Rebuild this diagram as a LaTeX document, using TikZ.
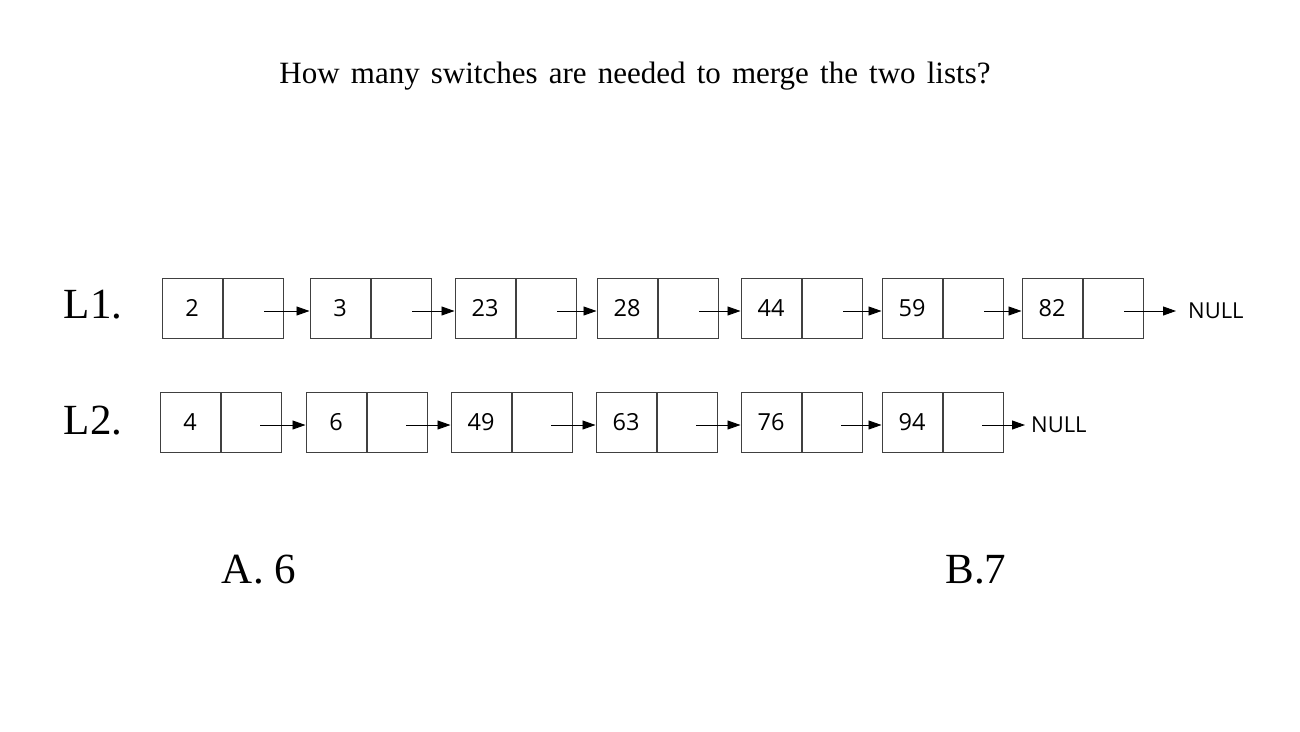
\documentclass[tikz,border=0pt]{standalone}
\usepackage{fontspec}
\setmainfont{Liberation Serif}
\newfontfamily\cellfont{Open Sans}
\usetikzlibrary{arrows.meta,calc}
\begin{document}
\begin{tikzpicture}[x=1pt,y=-1pt,
  cell/.style={draw=black!75, line width=1pt, minimum width=60pt, minimum height=60pt, inner sep=0pt, font=\cellfont\fontsize{23.5}{27}\selectfont},
  link/.style={-{Triangle[length=13pt,width=9pt]}, line width=0.9pt},
  nulltext/.style={inner sep=0pt, anchor=west, font=\cellfont\fontsize{22}{26}\selectfont},
  big/.style={font=\fontsize{43}{50}\selectfont},
  titlestyle/.style={font=\fontsize{31}{36}\selectfont}]
\useasboundingbox (0,0) rectangle (1300,731);
\node[titlestyle] (title) at (635,76) {\spaceskip=0.36em How many switches are needed to merge the two lists?};
\node[big] (l1) at (93,305) {L1.};
\node[big] (l2) at (93,421) {L2.};
\node[big] (ansA) at (259,570) {A. 6};
\node[big] (ansB) at (976,570) {B.7};
% List 1
\foreach \i/\x/\v in {1/162/2, 2/310/3, 3/455/23, 4/597/28, 5/741/44, 6/882/59, 7/1022/82} {
  \node[cell] (ad\i) at (\x+30,308) {\v};
  \node[cell, anchor=west] (ap\i) at (ad\i.east) {};
  \coordinate (as\i) at ($(ap\i.center)+(11,3)$);
}
\foreach \i/\j in {1/2,2/3,3/4,4/5,5/6,6/7} {
  \draw[link] (as\i) -- (as\i -| ad\j.west);
}
\node[nulltext] (an) at (1188,311) {NULL};
\draw[link] (as7) -- ([xshift=-12pt]an.west);
% List 2
\foreach \i/\x/\v in {1/160/4, 2/306/6, 3/451/49, 4/596/63, 5/741/76, 6/882/94} {
  \node[cell] (bd\i) at (\x+30,422) {\v};
  \node[cell, anchor=west] (bp\i) at (bd\i.east) {};
  \coordinate (bs\i) at ($(bp\i.center)+(9,3)$);
}
\foreach \i/\j in {1/2,2/3,3/4,4/5,5/6} {
  \draw[link] (bs\i) -- (bs\i -| bd\j.west);
}
\node[nulltext] (bn) at (1031,425) {NULL};
\draw[link] (bs6) -- ([xshift=-6pt]bn.west);
\end{tikzpicture}
\end{document}
